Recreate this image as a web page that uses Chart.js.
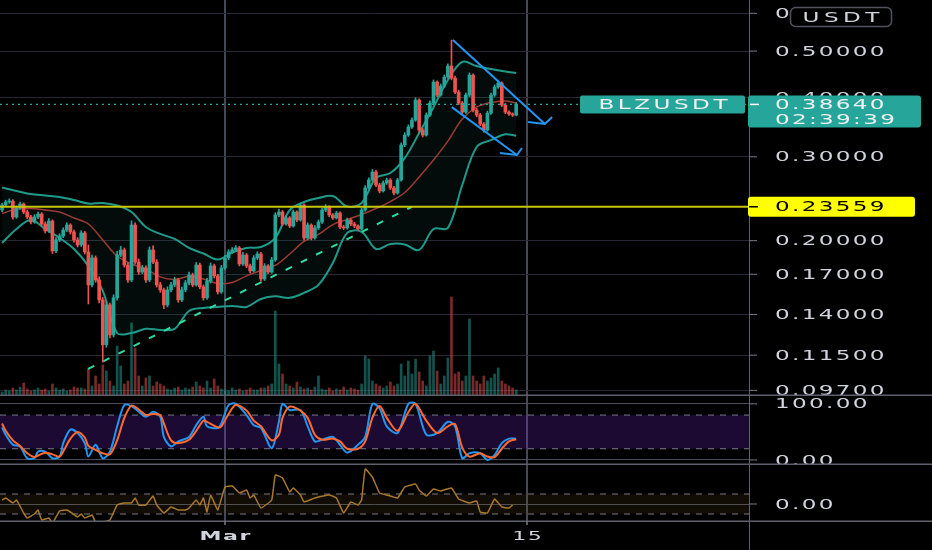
<!DOCTYPE html>
<html>
<head>
<meta charset="utf-8">
<title>BLZUSDT</title>
<script src="https://cdn.jsdelivr.net/npm/chart.js@4.4.1/dist/chart.umd.min.js"></script>
<style>
  html, body { margin: 0; padding: 0; background: #000; }
  #wrap { position: relative; width: 932px; height: 550px; overflow: hidden; background: #000; }
  #wrap canvas { position: absolute; left: 0; }
</style>
</head>
<body>
<div id="wrap">
  <canvas id="priceChart" width="932" height="396" style="top:0;width:932px;height:396px"></canvas>
  <canvas id="stochChart" width="932" height="69" style="top:396px;width:932px;height:69px"></canvas>
  <canvas id="oscChart" width="932" height="85" style="top:465px;width:932px;height:85px"></canvas>
</div>
<script>
// 4h candles, index 0 = first visible candle, Mar 1 00:00 = index 62
const open = [.2319,.2376,.2411,.2422,.2242,.2342,.2388,.2297,.2242,.2189,
  .2242,.2275,.2168,.2096,.2199,.1903,.2007,.2046,.2106,.2157,
  .2086,.2007,.1959,.2076,.1894,.1615,.1840,.1654,.1502,.1209,
  .1466,.1268,.1517,.1866,.1912,.1778,.1654,.2157,.1804,.1719,
  .1753,.1654,.1912,.1804,.1615,.1576,.1466,.1576,.1615,.1654,
  .1502,.1576,.1631,.1695,.1615,.1778,.1600,.1517,.1646,.1770,
  .1687,.1561,.1753,.1840,.1894,.1912,.1931,.1787,.1866,.1770,
  .1728,.1840,.1875,.1662,.1770,.1719,.1822,.2264,.2297,.2168,
  .2232,.2147,.2297,.2210,.2376,.2026,.2157,.2026,.2127,.2189,
  .2319,.2353,.2264,.2232,.2286,.2137,.2127,.2210,.2168,.2147,
  .2116,.2319,.2580,.2681,.2787,.2617,.2543,.2643,.2681,.2580,
  .2518,.2681,.3175,.3332,.3463,.3582,.3946,.3413,.3332,.3670,
  .3889,.4304,.4042,.4222,.4409,.4650,.4388,.4101,.3889,.3723,
  .4042,.4452,.3759,.3670,.3514,.3413,.3705,.4042,.4202,.4283,
  .3851,.3723,.3688,.3670];
const high = [.2398,.2432,.2448,.2440,.2365,.2410,.2401,.2318,.2260,.2268,
  .2297,.2290,.2190,.2225,.2212,.2030,.2068,.2128,.2180,.2170,
  .2105,.2030,.2098,.2092,.1959,.1866,.1858,.1680,.1520,.1490,
  .1480,.1540,.1900,.1945,.1930,.1800,.2200,.2180,.1830,.1775,
  .1770,.1940,.1950,.1825,.1635,.1590,.1600,.1635,.1675,.1668,
  .1598,.1650,.1718,.1710,.1800,.1795,.1615,.1668,.1795,.1785,
  .1700,.1775,.1862,.1915,.1935,.1952,.1945,.1890,.1880,.1785,
  .1860,.1895,.1890,.1790,.1782,.1845,.2290,.2330,.2315,.2255,
  .2248,.2320,.2310,.2400,.2390,.2180,.2170,.2150,.2210,.2340,
  .2380,.2368,.2280,.2305,.2300,.2155,.2230,.2225,.2185,.2160,
  .2345,.2610,.2710,.2820,.2810,.2640,.2670,.2705,.2700,.2600,
  .2705,.3210,.3370,.3500,.3620,.3990,.3970,.3440,.3710,.3930,
  .4350,.4330,.4265,.4455,.4700,.5273,.4430,.4140,.3920,.4080,
  .4500,.4480,.3790,.3700,.3540,.3740,.4080,.4245,.4330,.4310,
  .3880,.3745,.3710,.3900];
const low = [.2300,.2355,.2395,.2220,.2228,.2325,.2278,.2222,.2168,.2175,
  .2225,.2148,.2075,.2082,.1880,.1888,.1990,.2030,.2090,.2065,
  .1985,.1940,.1945,.1875,.1473,.1600,.1635,.1480,.1112,.1195,
  .1250,.1255,.1500,.1850,.1760,.1635,.1640,.1785,.1700,.1705,
  .1635,.1640,.1790,.1598,.1558,.1440,.1452,.1562,.1600,.1485,
  .1490,.1562,.1615,.1600,.1605,.1585,.1500,.1505,.1630,.1670,
  .1545,.1550,.1738,.1825,.1880,.1898,.1770,.1775,.1755,.1712,
  .1718,.1825,.1645,.1650,.1705,.1708,.1810,.2245,.2150,.2155,
  .2130,.2135,.2192,.2198,.2005,.2012,.2008,.2015,.2110,.2175,
  .2300,.2245,.2215,.2220,.2120,.2110,.2115,.2150,.2130,.2098,
  .2105,.2305,.2565,.2665,.2595,.2520,.2530,.2625,.2560,.2495,
  .2505,.2665,.3150,.3310,.3440,.3560,.3380,.3300,.3315,.3645,
  .3865,.4010,.4020,.4195,.4380,.4350,.4070,.3860,.3690,.3700,
  .4010,.3725,.3640,.3485,.3380,.3395,.3680,.4015,.4175,.3825,
  .3695,.3665,.3645,.3655];
const close = [.2376,.2411,.2422,.2242,.2342,.2388,.2297,.2242,.2189,.2242,
  .2275,.2168,.2096,.2199,.1903,.2007,.2046,.2106,.2157,.2086,
  .2007,.1959,.2076,.1894,.1615,.1840,.1654,.1502,.1209,.1466,
  .1268,.1517,.1866,.1912,.1778,.1654,.2157,.1804,.1719,.1753,
  .1654,.1912,.1804,.1615,.1576,.1466,.1576,.1615,.1654,.1502,
  .1576,.1631,.1695,.1615,.1778,.1600,.1517,.1646,.1770,.1687,
  .1561,.1753,.1840,.1894,.1912,.1931,.1787,.1866,.1770,.1728,
  .1840,.1875,.1662,.1770,.1719,.1822,.2264,.2297,.2168,.2232,
  .2147,.2297,.2210,.2376,.2026,.2157,.2026,.2127,.2189,.2319,
  .2353,.2264,.2232,.2286,.2137,.2127,.2210,.2168,.2147,.2116,
  .2319,.2580,.2681,.2787,.2617,.2543,.2643,.2681,.2580,.2518,
  .2681,.3175,.3332,.3463,.3582,.3946,.3413,.3332,.3670,.3889,
  .4304,.4042,.4222,.4409,.4650,.4388,.4101,.3889,.3723,.4042,
  .4452,.3759,.3670,.3514,.3413,.3705,.4042,.4202,.4283,.3851,
  .3723,.3688,.3670,.3864];
// volume, millions
const volume = [.4,.6,.5,.8,.6,.9,1.3,.7,.5,.6,
  .8,.6,.7,.5,1.2,.8,.6,.7,.5,.6,
  .9,.8,.8,.7,2.7,1.0,2.0,1.2,3.1,2.5,
  1.5,1.0,5.0,3.0,1.2,1.5,7.3,4.8,2.0,1.0,
  1.8,2.0,1.0,1.4,1.2,1.0,.7,.6,.8,.9,
  .6,.8,.7,.9,1.4,1.0,.8,1.5,.8,1.7,
  1.0,.7,.6,.5,.8,.6,.7,.5,.6,.8,
  .6,.6,.8,.8,1.0,1.2,8.5,3.2,2.2,1.2,
  1.0,.8,1.4,.9,.7,.8,.6,.9,2.0,.7,
  .6,.8,.5,.7,.6,.9,.6,.8,.7,.6,
  1.2,4.0,3.7,1.5,1.2,1.0,.8,1.0,1.4,1.0,
  1.2,3.2,2.0,3.5,2.2,3.7,2.4,1.5,1.0,4.0,
  4.5,2.5,1.2,2.0,3.8,9.9,2.2,2.4,1.5,2.0,
  7.7,2.0,1.5,1.2,2.0,1.5,1.8,2.2,2.8,1.5,
  1.2,1.0,.8,.6];

// Bollinger bands read every 4 candles
const bbIdx = [0,4,8,12,16,20,24,28,32,36,40,44,48,52,56,60,64,68,72,76,80,84,88,92,96,100,104,108,112,116,120,124,128,132,136,140,143];
const bbUpper = [.2586,.2543,.2506,.2488,.2470,.2434,.2393,.2399,.2370,.2297,.2136,.2066,.2017,.1931,.1880,.1826,.1889,.1931,.1940,.2027,.2319,.2411,.2458,.2482,.2359,.2399,.2707,.2773,.2981,.3364,.3813,.4346,.4744,.4651,.4583,.4528,.4495];
const bbBasis = [.2280,.2330,.2336,.2319,.2297,.2232,.2168,.2007,.1857,.1787,.1745,.1679,.1658,.1683,.1662,.1626,.1634,.1687,.1732,.1774,.1875,.1992,.2061,.2162,.2215,.2269,.2336,.2416,.2524,.2720,.2953,.3236,.3600,.3813,.3900,.3929,.3890];
const bbLower = [.1978,.2116,.2210,.2116,.2027,.1921,.1770,.1569,.1280,.1280,.1306,.1299,.1306,.1424,.1445,.1452,.1459,.1452,.1509,.1528,.1517,.1554,.1615,.1795,.2076,.2086,.1921,.1968,.1964,.1912,.2116,.2127,.2617,.3144,.3252,.3345,.3320];

// Stoch RSI
const stochIdx = [0,1,3,5,7,9,10,12,14,16,17,19,21,23,24,26,28,30,32,34,36,38,40,42,44,45,47,49,52,54,56,57,60,61,63,65,68,70,72,75,77,78,80,83,85,87,89,92,94,96,99,101,103,105,107,110,113,115,118,121,124,126,128,130,133,135,137,139,141,143];
const stochK = [58,45,27,24,3,3,15,15,3,6,30,54,48,30,6,27,3,15,60,98,96,86,77,86,77,41,24,33,41,62,77,60,57,65,98,100,80,62,57,21,68,100,89,89,60,33,36,41,27,13,27,41,100,92,60,48,100,100,45,48,68,60,3,12,12,0,9,30,38,38];
const stochD = [65,52,35,25,12,5,8,13,10,6,15,38,50,40,25,18,12,10,35,75,97,90,80,82,80,65,35,30,36,52,70,68,58,60,82,98,88,70,60,35,45,75,95,88,75,45,36,38,33,20,20,33,75,96,75,52,85,100,70,48,60,64,22,6,12,6,5,20,33,37];

// lower oscillator
const oscIdx = [0,1,3,4,6,7,9,10,11,13,14,16,18,19,21,22,23,25,26,28,30,32,34,36,37,38,40,42,43,45,47,49,51,52,54,55,56,57,58,60,62,64,66,68,69,70,72,75,76,78,80,81,83,84,87,91,93,95,97,99,100,101,103,105,107,110,112,115,116,118,120,122,125,127,130,132,133,135,137,139,141,142];
const oscVal = [40,60,10,40,-90,-140,-100,-60,-160,-140,-190,-70,-60,-80,-130,-100,-140,-110,-180,-180,-160,-10,10,10,60,-10,-10,80,-10,-90,-30,-60,-60,-40,40,-10,60,-80,90,-60,170,180,110,140,60,90,-40,40,290,260,120,160,90,20,60,90,60,-90,20,-10,40,350,270,110,90,60,170,200,140,80,150,130,160,50,10,30,-80,-90,50,-30,-40,-10];

const dateTicks = [62, 146];
const dateLabels = ['Mar', '15'];
const dateIsMonth = [true, false];
const priceTicks = [0.097, 0.115, 0.14, 0.17, 0.2, 0.3, 0.4, 0.5, 0.6];
const stochTicks = [0, 100];
const stochBand = [20, 80];
const oscTicks = [0];
const oscBand = [-100, 100];

const supportLevel = 0.23559;
const lastPrice = 0.3864;
const symbol = 'BLZUSDT';
const countdown = '02:39:39';
const currency = 'USDT';

// drawn lines (candle index, price)
const trendX = [23.9, 114];
const trendY = [0.1076, 0.2356];
const chanTopX = [125.4, 151.0];
const chanTopY = [0.5273, 0.3515];
const chanTopHookX = [146.3, 151.0, 153.0];
const chanTopHookY = [0.3548, 0.3515, 0.3635];
const chanBotX = [125.1, 143.2];
const chanBotY = [0.3813, 0.3025];
const chanBotHookX = [138.5, 143.2, 144.6];
const chanBotHookY = [0.3054, 0.3025, 0.3130];

const X_MIN = -0.584, X_MAX = 207.76, AXIS_W = 183;
const UP = '#26a69a', DOWN = '#ef5350', BLUE = '#2196f3';
const GRID = '#262833', SEP = '#5d606b', TXT = '#d1d4dc', TICK = '#787b86';
const FONT = '"DejaVu Sans", sans-serif';
const LABEL = { font: '14px ' + FONT, color: TXT, sx: 1.65, sp: 2.3 };

Chart.defaults.font.family = FONT;

// wide, letter-spaced text like the terminal's axis labels
function wideText(ctx, text, x, y, o) {
  ctx.save();
  ctx.font = o.font;
  ctx.fillStyle = o.color;
  ctx.textBaseline = 'middle';
  ctx.textAlign = 'left';
  const chars = [...text];
  const adv = chars.map(ch => ctx.measureText(ch).width * o.sx + o.sp);
  const total = adv.reduce((s, w) => s + w, 0) - o.sp;
  let cx = o.align === 'center' ? x - total / 2 : x;
  chars.forEach((ch, k) => {
    ctx.save();
    ctx.translate(cx, y + 1);
    ctx.scale(o.sx, 1);
    ctx.fillText(ch, 0, 0);
    ctx.restore();
    cx += adv[k];
  });
  ctx.restore();
}

function seg(ctx, x1, y1, x2, y2, color, w, dash) {
  ctx.save();
  ctx.strokeStyle = color;
  ctx.lineWidth = w;
  ctx.setLineDash(dash || []);
  ctx.beginPath();
  ctx.moveTo(x1, y1);
  ctx.lineTo(x2, y2);
  ctx.stroke();
  ctx.restore();
}

function box(ctx, x, y, w, h, color, r) {
  ctx.save();
  ctx.fillStyle = color;
  ctx.beginPath();
  ctx.roundRect(x, y, w, h, r);
  ctx.fill();
  ctx.restore();
}

const pts = (xs, ys) => xs.map((x, k) => ({ x, y: ys[k] }));

function xAxis(h) {
  return {
    type: 'linear', min: X_MIN, max: X_MAX, offset: false,
    afterBuildTicks: s => { s.ticks = dateTicks.map(v => ({ value: v })); },
    afterFit: s => { s.height = h; },
    ticks: { display: false },
    grid: { color: '#444754', lineWidth: 2, drawTicks: false, offset: false },
    border: { display: false }
  };
}

function yAxis(type, min, max, ticks, gridColor) {
  return {
    type, min, max, position: 'right',
    afterBuildTicks: s => { s.ticks = ticks.map(v => ({ value: v })); },
    afterFit: s => { s.width = AXIS_W; },
    ticks: { display: false },
    grid: { color: gridColor, lineWidth: 1, drawTicks: false },
    border: { display: true, color: SEP, width: 1 }
  };
}

const baseOptions = {
  responsive: false,
  animation: false,
  events: [],
  layout: { padding: 0, autoPadding: false },
  plugins: { legend: { display: false }, tooltip: { enabled: false } }
};

// ---------- price pane ----------
const candleIdx = close.map((c, i) => i);
const isUp = close.map((c, i) => c >= open[i]);
const candleColor = isUp.map(u => u ? UP : DOWN);
const volColor = isUp.map(u => u ? 'rgba(38,166,154,0.5)' : 'rgba(239,83,80,0.5)');
const xEdges = [X_MIN, X_MAX];

const priceOverlay = {
  id: 'priceOverlay',
  afterDraw(chart) {
    const { ctx, chartArea: a } = chart;
    const y = chart.scales.y;
    const lx = a.right + 26;
    priceTicks.forEach(v => {
      const py = y.getPixelForValue(v);
      seg(ctx, a.right, py, a.right + 8, py, TICK, 1);
      wideText(ctx, v.toFixed(5), lx, py, LABEL);
    });
    // support level tag
    const sy = y.getPixelForValue(supportLevel);
    box(ctx, a.right - 1, sy - 10, 167, 20, '#ffff00', 3);
    seg(ctx, a.right, sy, a.right + 9, sy, '#000', 1.5);
    wideText(ctx, supportLevel.toFixed(5), lx, sy, Object.assign({}, LABEL, { color: '#000' }));
    // last price tags
    const ly = y.getPixelForValue(lastPrice);
    box(ctx, a.right - 169, ly - 9, 165, 18, UP, 2);
    wideText(ctx, symbol, a.right - 86, ly, Object.assign({}, LABEL, { color: '#f0f0f0', sp: 3.5, align: 'center' }));
    box(ctx, a.right - 1, ly - 9, 173, 32, UP, 3);
    seg(ctx, a.right + 1, ly, a.right + 10, ly, '#fff', 1.5);
    wideText(ctx, lastPrice.toFixed(5), lx, ly, Object.assign({}, LABEL, { color: '#f0f0f0' }));
    wideText(ctx, countdown, lx, ly + 15, Object.assign({}, LABEL, { color: '#f0f0f0' }));
    // currency badge
    ctx.save();
    ctx.beginPath();
    ctx.roundRect(790.5, 7.5, 101, 19, 5);
    ctx.fillStyle = '#000';
    ctx.fill();
    ctx.strokeStyle = '#50535e';
    ctx.lineWidth = 1.5;
    ctx.stroke();
    ctx.restore();
    wideText(ctx, currency, 841, 17, Object.assign({}, LABEL, { sp: 4.5, align: 'center' }));
    // pane separator
    seg(ctx, 0, a.bottom - 0.75, chart.width, a.bottom - 0.75, SEP, 1.5);
  }
};

new Chart(document.getElementById('priceChart'), {
  type: 'bar',
  data: {
    datasets: [
      { type: 'bar', yAxisID: 'v', data: pts(candleIdx, volume), backgroundColor: volColor,
        barThickness: 2, grouped: false, order: 10 },
      { type: 'line', data: pts(bbIdx, bbUpper), borderColor: '#1f9a8b', borderWidth: 2, pointRadius: 0,
        tension: 0.35, fill: '+1', backgroundColor: 'rgba(38,166,154,0.07)', order: 8 },
      { type: 'line', data: pts(bbIdx, bbLower), borderColor: '#1f9a8b', borderWidth: 2, pointRadius: 0,
        tension: 0.35, fill: false, order: 8 },
      { type: 'line', data: pts(bbIdx, bbBasis), borderColor: '#9a3b34', borderWidth: 1.5, pointRadius: 0,
        tension: 0.35, fill: false, order: 7 },
      { type: 'line', data: pts(trendX, trendY), borderColor: '#2fdc9f', borderWidth: 2, borderDash: [7, 10],
        pointRadius: 0, fill: false, order: 6 },
      { type: 'bar', data: candleIdx.map(i => ({ x: i, y: [low[i], high[i]] })), backgroundColor: candleColor,
        barThickness: 1, grouped: false, order: 4 },
      { type: 'bar', data: candleIdx.map(i => ({ x: i, y: [open[i], close[i]] })), backgroundColor: candleColor,
        barThickness: 3, minBarLength: 1, grouped: false, order: 3 },
      { type: 'line', data: pts(chanTopX, chanTopY), borderColor: BLUE, borderWidth: 2, pointRadius: 0, fill: false, order: 2 },
      { type: 'line', data: pts(chanTopHookX, chanTopHookY), borderColor: BLUE, borderWidth: 2, pointRadius: 0, fill: false, order: 2 },
      { type: 'line', data: pts(chanBotX, chanBotY), borderColor: BLUE, borderWidth: 2, pointRadius: 0, fill: false, order: 2 },
      { type: 'line', data: pts(chanBotHookX, chanBotHookY), borderColor: BLUE, borderWidth: 2, pointRadius: 0, fill: false, order: 2 },
      { type: 'line', data: pts(xEdges, [supportLevel, supportLevel]), borderColor: '#c9c400', borderWidth: 2,
        pointRadius: 0, fill: false, order: 1 },
      { type: 'line', data: pts(xEdges, [lastPrice, lastPrice]), borderColor: UP, borderWidth: 1.2, borderDash: [2, 4],
        pointRadius: 0, fill: false, order: 1 }
    ]
  },
  options: Object.assign({}, baseOptions, {
    scales: {
      x: xAxis(0),
      y: yAxis('logarithmic', 0.0944, 0.64, priceTicks, GRID),
      v: { type: 'linear', display: false, min: 0, max: 39.6 }
    }
  }),
  plugins: [priceOverlay]
});

// ---------- stoch RSI pane ----------
const stochOverlay = {
  id: 'stochOverlay',
  beforeDatasetsDraw(chart) {
    const { ctx, chartArea: a } = chart;
    const y = chart.scales.y;
    const yTop = y.getPixelForValue(stochBand[1]), yBot = y.getPixelForValue(stochBand[0]);
    ctx.save();
    ctx.fillStyle = 'rgba(120,40,214,0.24)';
    ctx.fillRect(a.left, yTop, a.right - a.left, yBot - yTop);
    ctx.restore();
    seg(ctx, a.left, yTop, a.right, yTop, TICK, 1, [6, 6]);
    seg(ctx, a.left, yBot, a.right, yBot, TICK, 1, [6, 6]);
  },
  afterDraw(chart) {
    const { ctx, chartArea: a } = chart;
    const y = chart.scales.y;
    stochTicks.forEach(v => {
      const py = y.getPixelForValue(v);
      seg(ctx, a.right, py, a.right + 8, py, TICK, 1);
      wideText(ctx, v.toFixed(2), a.right + 26, py, LABEL);
    });
    seg(ctx, 0, a.bottom - 0.75, chart.width, a.bottom - 0.75, SEP, 1.5);
  }
};

new Chart(document.getElementById('stochChart'), {
  type: 'line',
  data: {
    datasets: [
      { data: pts(stochIdx, stochD), borderColor: '#ff6a30', borderWidth: 2, pointRadius: 0, tension: 0.3, order: 1 },
      { data: pts(stochIdx, stochK), borderColor: BLUE, borderWidth: 2, pointRadius: 0, tension: 0.3, order: 2 }
    ]
  },
  options: Object.assign({}, baseOptions, {
    scales: {
      x: xAxis(0),
      y: yAxis('linear', -9, 114, stochTicks, '#4a4d58')
    }
  }),
  plugins: [stochOverlay]
});

// ---------- lower oscillator pane ----------
const oscOverlay = {
  id: 'oscOverlay',
  beforeDatasetsDraw(chart) {
    const { ctx, chartArea: a } = chart;
    const y = chart.scales.y;
    const yTop = y.getPixelForValue(oscBand[1]), yBot = y.getPixelForValue(oscBand[0]);
    ctx.save();
    ctx.fillStyle = 'rgba(130,95,30,0.14)';
    ctx.fillRect(a.left, yTop, a.right - a.left, yBot - yTop);
    ctx.restore();
    seg(ctx, a.left, yTop, a.right, yTop, TICK, 1, [6, 6]);
    seg(ctx, a.left, yBot, a.right, yBot, TICK, 1, [6, 6]);
  },
  afterDraw(chart) {
    const { ctx, chartArea: a } = chart;
    const y = chart.scales.y, x = chart.scales.x;
    oscTicks.forEach(v => {
      const py = y.getPixelForValue(v);
      seg(ctx, a.right, py, a.right + 8, py, TICK, 1);
      wideText(ctx, v.toFixed(2), a.right + 26, py, LABEL);
    });
    seg(ctx, 0, a.bottom + 0.25, chart.width, a.bottom + 0.25, SEP, 1.5);
    seg(ctx, a.right + 0.5, a.bottom, a.right + 0.5, chart.height, SEP, 1);
    dateTicks.forEach((v, k) => {
      const px = x.getPixelForValue(v);
      seg(ctx, px, a.bottom, px, a.bottom + 4, TICK, 1.5);
      const f = dateIsMonth[k] ? 'bold 13px ' + FONT : '13px ' + FONT;
      wideText(ctx, dateLabels[k], px, a.bottom + 15,
        { font: f, color: TXT, sx: 1.7, sp: 1.5, align: 'center' });
    });
  }
};

new Chart(document.getElementById('oscChart'), {
  type: 'line',
  data: {
    datasets: [
      { data: pts(oscIdx, oscVal), borderColor: '#a8782c', borderWidth: 1.5, pointRadius: 0, tension: 0.1 }
    ]
  },
  options: Object.assign({}, baseOptions, {
    scales: {
      x: xAxis(29),
      y: yAxis('linear', -170, 390, oscTicks, '#4a4d58')
    }
  }),
  plugins: [oscOverlay]
});
</script>
</body>
</html>
